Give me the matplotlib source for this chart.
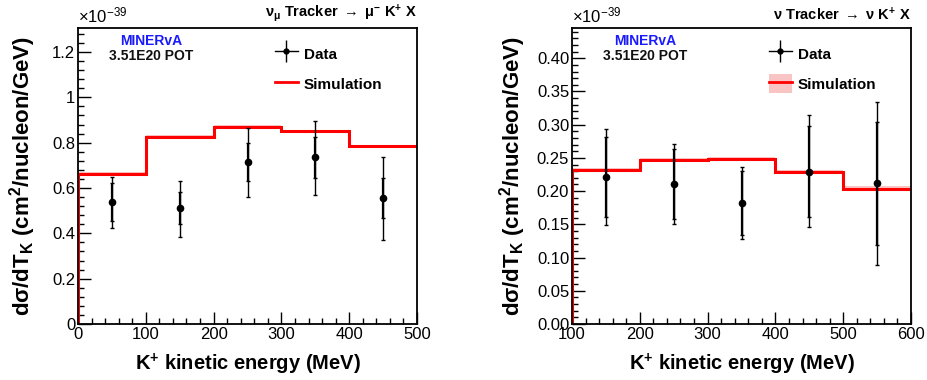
import numpy as np
import matplotlib
matplotlib.use("Agg")
import matplotlib.pyplot as plt
from matplotlib.ticker import MultipleLocator, FormatStrFormatter
from matplotlib.lines import Line2D
from matplotlib.patches import Rectangle
from matplotlib.legend_handler import HandlerTuple

plt.rcParams['font.family'] = ['Liberation Sans', 'DejaVu Sans']
plt.rcParams['mathtext.fontset'] = 'custom'
plt.rcParams['mathtext.rm'] = 'Liberation Sans'
plt.rcParams['mathtext.bf'] = 'Liberation Sans:bold'
plt.rcParams['mathtext.it'] = 'Liberation Sans:italic'
plt.rcParams['mathtext.default'] = 'regular'

# ---- left panel: nu_mu Tracker -> mu- K+ X ----
left_edges = [0, 100, 200, 300, 400, 500]
left_centers = [50, 150, 250, 350, 450]
left_data = [0.54, 0.512, 0.715, 0.735, 0.555]
left_tot_lo = [0.425, 0.385, 0.561, 0.569, 0.370]
left_tot_hi = [0.650, 0.633, 0.863, 0.897, 0.735]
left_stat_lo = [0.456, 0.441, 0.633, 0.643, 0.466]
left_stat_hi = [0.620, 0.582, 0.797, 0.824, 0.642]
left_sim = [0.663, 0.827, 0.871, 0.850, 0.784]
left_sim_err = [0.006, 0.006, 0.006, 0.006, 0.006]

# ---- right panel: nu Tracker -> nu K+ X ----
right_edges = [100, 200, 300, 400, 500, 600]
right_centers = [150, 250, 350, 450, 550]
right_data = [0.2215, 0.211, 0.182, 0.2295, 0.2115]
right_tot_lo = [0.1485, 0.151, 0.1285, 0.146, 0.0895]
right_tot_hi = [0.294, 0.271, 0.236, 0.3145, 0.334]
right_stat_lo = [0.1615, 0.1585, 0.134, 0.1615, 0.119]
right_stat_hi = [0.281, 0.2635, 0.231, 0.2985, 0.304]
right_sim = [0.232, 0.247, 0.2485, 0.229, 0.2035]
right_sim_err = [0.0035, 0.0035, 0.0035, 0.0035, 0.0035]

W, H = 928, 380
fig = plt.figure(figsize=(W / 100, H / 100), dpi=100)

def ax_rect(x0, y0, x1, y1):
    return [x0 / W, 1 - y1 / H, (x1 - x0) / W, (y1 - y0) / H]

axL = fig.add_axes(ax_rect(78, 28, 417, 324))
axR = fig.add_axes(ax_rect(572, 28, 911, 324))

def draw(ax, edges, centers, data, tlo, thi, slo, shi, sim, simerr, ylim, ymaj, ymin, yfmt,
         title, band_legend, ylab_x):
    edges = np.array(edges, float)
    sim = np.array(sim)
    simerr = np.array(simerr)
    ax.stairs(sim + simerr, edges, baseline=sim - simerr, fill=True,
              color='#f9c4c4', lw=0, zorder=1)
    ax.stairs(sim, edges, baseline=None, color='red', lw=2.2, zorder=2)
    ax.plot([edges[0], edges[0]], [0, sim[0]], color='red', lw=2.2, zorder=2)
    data = np.array(data)
    ax.errorbar(centers, data, yerr=[data - np.array(tlo), np.array(thi) - data],
                fmt='none', ecolor='black', elinewidth=1.0, capsize=1.5, capthick=1.0, zorder=3)
    ax.errorbar(centers, data, yerr=[data - np.array(slo), np.array(shi) - data],
                fmt='none', ecolor='black', elinewidth=1.6, capsize=1.5, capthick=1.0, zorder=3)
    ax.plot(centers, data, 'o', color='black', ms=4.5, zorder=4)
    ax.set_xlim(edges[0], edges[-1])
    ax.set_ylim(*ylim)
    ax.xaxis.set_major_locator(MultipleLocator(100))
    ax.xaxis.set_minor_locator(MultipleLocator(20))
    ax.yaxis.set_major_locator(MultipleLocator(ymaj))
    ax.yaxis.set_minor_locator(MultipleLocator(ymin))
    ax.yaxis.set_major_formatter(FormatStrFormatter(yfmt) if yfmt else plt.FuncFormatter(lambda v, p: ('%g' % round(v, 3))))
    ax.tick_params(which='both', direction='in', top=False, right=False, labelsize=12, pad=2, width=1.0)
    ax.tick_params(which='major', length=9)
    ax.tick_params(which='minor', length=4.5)
    for s in ax.spines.values():
        s.set_linewidth(1.3)
    ax.set_xlabel(r'K$^{+}$ kinetic energy (MeV)', fontsize=14.5, fontweight='bold')
    ax.xaxis.set_label_coords(0.5, -0.095)
    ax.set_ylabel(r'd$\sigma$/dT$_{\mathbf{K}}$ (cm$^{\mathbf{2}}$/nucleon/GeV)', fontsize=16, fontweight='bold')
    ax.yaxis.set_label_coords(ylab_x, 0.5)
    ax.text(0.0, 1.01, r'$\times$10$^{-39}$', transform=ax.transAxes, fontsize=12, ha='left', va='bottom')
    ax.text(1.0, 1.015, title, transform=ax.transAxes, fontsize=10.5, fontweight='bold', ha='right', va='bottom')
    ax.text(0.215, 0.955, 'MINERvA', transform=ax.transAxes, fontsize=10, fontweight='bold', color='#1a1aff', ha='center', va='center')
    ax.text(0.215, 0.905, '3.51E20 POT', transform=ax.transAxes, fontsize=10, fontweight='bold', color='#111111', ha='center', va='center')
    # legend
    h_data = (Line2D([], [], color='black', lw=1.0),
              Line2D([], [], color='black', marker='|', ms=16, mew=1.0, linestyle='none'),
              Line2D([], [], color='black', marker='o', ms=3.5, linestyle='none'))
    if band_legend:
        h_sim = (Rectangle((0, 0), 1, 1, facecolor='#f9c4c4', edgecolor='none'), Line2D([], [], color='red', lw=2))
    else:
        h_sim = Line2D([], [], color='red', lw=2)
    ax.legend([h_data, h_sim], ['Data', 'Simulation'], loc='upper left', bbox_to_anchor=(0.58, 0.945),
              frameon=False, prop={'weight': 'bold', 'size': 11}, handlelength=1.5, handleheight=1.5,
              handletextpad=0.4, labelspacing=0.75, borderaxespad=0, borderpad=0,
              handler_map={tuple: HandlerTuple(ndivide=1, pad=0)})

draw(axL, left_edges, left_centers, left_data, left_tot_lo, left_tot_hi, left_stat_lo, left_stat_hi,
     left_sim, left_sim_err, (0, 1.306), 0.2, 0.04, None,
     r'$\nu_{\mu}$ Tracker $\rightarrow$ $\mu^{-}$ K$^{\mathbf{+}}$ X', False, -0.118)
draw(axR, right_edges, right_centers, right_data, right_tot_lo, right_tot_hi, right_stat_lo, right_stat_hi,
     right_sim, right_sim_err, (0, 0.4455), 0.05, 0.01, '%.2f',
     r'$\nu$ Tracker $\rightarrow$ $\nu$ K$^{\mathbf{+}}$ X', True, -0.130)

fig.savefig('out.png', dpi=100)
